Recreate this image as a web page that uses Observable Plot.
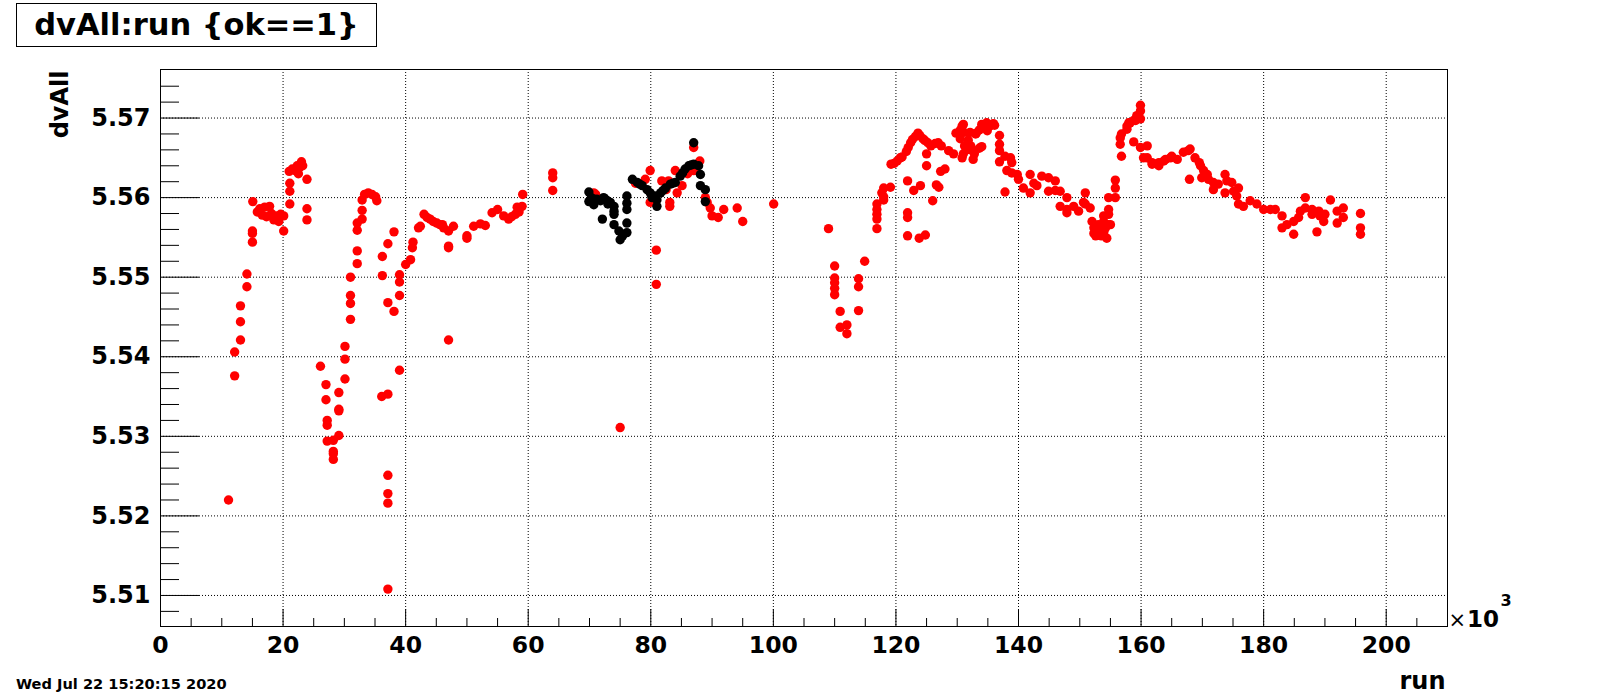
<!DOCTYPE html>
<html>
<head>
<meta charset="utf-8">
<script src="https://cdn.jsdelivr.net/npm/d3@7"></script>
<script src="https://cdn.jsdelivr.net/npm/@observablehq/plot@0.6"></script>
<style>
  html, body { margin: 0; padding: 0; background: #fff; }
  #wrap { position: relative; width: 1607px; height: 696px; overflow: hidden; font-family: "DejaVu Sans", sans-serif; }
  #title { position: absolute; left: 16px; top: 3px; width: 361px; height: 44px; box-sizing: border-box;
           border: 1px solid #000; background: #fff; font-weight: bold; font-size: 30.5px; line-height: 42px;
           text-align: center; color: #000; white-space: nowrap; }
  #date { position: absolute; left: 16px; top: 677px; font-weight: bold; font-size: 14.6px; line-height: 14px; color: #000; white-space: nowrap; }
  #chart { position: absolute; left: 0; top: 0; }
</style>
</head>
<body>
<div id="wrap">
  <div id="chart"></div>
  <div id="title">dvAll:run {ok==1}</div>
  <div id="date">Wed Jul 22 15:20:15 2020</div>
</div>
<script>
// ---- data (run in units of 10^3) ----
const redRun = [
  11.1,12.1,12.1,13.05,13.05,13.05,14.1,14.1,15.0,15.0,15.06,15.0,15.8,16.2,16.6,17.0,17.3,17.8,18.1,18.5,18.9,19.3,19.6,20.1,20.1,
  21.1,21.1,21.1,21.0,21.5,22.0,22.3,22.7,23.0,23.2,22.5,23.9,23.9,23.9,
  26.1,27.0,27.0,27.2,27.2,27.2,28.2,28.2,28.2,28.2,29.1,29.1,29.1,29.1,30.1,30.1,30.1,31.0,31.0,31.0,31.0,
  32.1,32.1,32.1,32.1,32.9,32.9,32.9,33.3,33.9,34.5,35.1,35.3,36.1,36.2,36.2,37.1,37.1,37.1,37.1,37.1,37.1,37.1,
  38.1,38.1,39.0,39.0,39.0,39.0,40.0,40.8,41.1,41.2,42.1,42.4,43.0,43.5,44.0,44.5,45.1,45.6,46.0,46.2,47.0,47.0,47.0,47.0,47.8,
  50.0,50.0,51.1,52.2,53.0,54.1,55.0,56.0,56.8,57.3,57.9,58.2,59.0,59.1,58.5,64.0,64.0,64.0,
  70.7,71.0,75.0,77.5,79.1,79.9,79.9,80.9,80.9,81.8,82.5,82.9,83.1,83.1,84.0,84.3,85.1,85.5,86.0,87.0,87.0,88.0,
  88.9,89.2,89.7,90.0,91.0,91.9,94.1,95.0,100.05,
  109.0,110.0,110.0,110.0,110.0,110.0,110.9,110.9,112.0,112.0,113.9,113.9,113.9,114.9,
  116.9,116.9,116.9,116.9,116.9,117.7,118.0,118.0,118.0,119.1,119.2,119.7,120.2,120.7,121.0,121.7,121.9,121.9,121.9,121.9,
  122.0,122.4,122.7,122.9,123.2,123.6,123.8,123.9,124.0,124.4,124.7,124.8,125.0,125.0,125.2,125.7,126.0,126.4,126.6,126.9,
  127.0,127.3,127.4,128.0,128.6,129.4,129.8,130.5,130.5,130.8,131.0,131.1,131.2,131.5,131.8,132.1,132.2,132.5,132.6,132.8,
  131.0,130.8,133.0,133.1,133.6,133.6,134.0,134.0,134.4,134.8,134.9,135.3,135.8,135.9,136.1,
  136.9,136.9,136.9,136.9,137.8,137.8,138.1,138.7,138.9,138.9,139.8,140.0,140.8,141.9,141.9,142.5,143.0,143.8,144.9,144.9,
  146.0,146.0,146.8,146.8,147.9,147.9,147.9,149.0,149.8,150.6,150.9,150.9,151.7,152.0,152.3,152.3,152.6,153.0,153.2,153.5,
  153.9,153.9,153.9,154.2,154.4,154.7,154.7,154.7,154.7,155.0,155.8,155.8,155.8,
  156.6,156.6,156.8,156.8,157.7,157.7,158.0,158.2,158.8,158.8,159.1,159.3,159.9,159.9,159.9,159.9,160.4,161.0,161.0,161.8,
  161.8,162.9,162.9,163.7,164.0,164.8,165.0,165.9,166.9,167.7,167.9,168.0,168.8,169.5,169.7,169.9,170.2,170.8,171.0,171.8,
  171.8,172.6,173.7,173.7,174.0,174.8,175.1,175.6,175.9,175.9,176.7,177.8,178.9,180.0,181.1,181.9,183.0,183.0,183.8,184.9,
  184.9,185.7,186.0,186.8,186.8,187.9,187.9,188.7,189.0,189.2,189.8,190.0,190.9,192.0,192.0,193.0,193.0,195.8,195.8,195.8
];
const redValue = [
  5.5220,5.5376,5.5406,5.5421,5.5444,5.5464,5.5488,5.5504,5.5544,5.5558,5.5595,5.5555,5.5582,5.5586,5.5578,5.5588,5.5576,5.5589,5.5580,5.5572,5.5577,5.5570,5.5579,5.5577,5.5558,
  5.5592,5.5608,5.5618,5.5633,5.5636,5.5634,5.5640,5.5638,5.5645,5.5640,5.5630,5.5623,5.5586,5.5572,
  5.5388,5.5365,5.5346,5.5320,5.5314,5.5294,5.5295,5.5281,5.5278,5.5271,5.5301,5.5355,5.5334,5.5332,5.5372,5.5397,5.5413,5.5447,5.5467,5.5477,5.5500,
  5.5517,5.5533,5.5559,5.5568,5.5573,5.5584,5.5597,5.5604,5.5606,5.5604,5.5601,5.5596,5.5350,5.5502,5.5526,5.5353,5.5468,5.5542,5.5251,5.5228,5.5216,5.5108,
  5.5457,5.5557,5.5383,5.5477,5.5494,5.5503,5.5516,5.5522,5.5537,5.5544,5.5562,5.5564,5.5579,5.5575,5.5573,5.5570,5.5568,5.5566,5.5566,5.5562,5.5558,5.5539,5.5537,5.5421,5.5564,
  5.5552,5.5549,5.5564,5.5567,5.5565,5.5581,5.5585,5.5577,5.5573,5.5576,5.5579,5.5588,5.5589,5.5604,5.5582,5.5631,5.5625,5.5609,
  5.5606,5.5604,5.5311,5.5618,5.5623,5.5634,5.5594,5.5534,5.5491,5.5621,5.5610,5.5621,5.5594,5.5589,5.5634,5.5606,5.5615,5.5632,5.5630,5.5663,5.5634,5.5646,
  5.5600,5.5594,5.5587,5.5577,5.5575,5.5585,5.5587,5.5570,5.5592,
  5.5561,5.5514,5.5499,5.5493,5.5486,5.5478,5.5457,5.5437,5.5440,5.5429,5.5498,5.5488,5.5458,5.5520,
  5.5561,5.5573,5.5579,5.5585,5.5592,5.5606,5.5597,5.5601,5.5612,5.5613,5.5642,5.5643,5.5646,5.5650,5.5651,5.5658,5.5621,5.5581,5.5575,5.5552,
  5.5663,5.5669,5.5673,5.5609,5.5677,5.5681,5.5549,5.5678,5.5615,5.5674,5.5672,5.5553,5.5655,5.5640,5.5669,5.5665,5.5596,5.5668,5.5616,5.5669,
  5.5613,5.5633,5.5665,5.5636,5.5659,5.5655,5.5681,5.5685,5.5674,5.5690,5.5692,5.5682,5.5665,5.5660,5.5672,5.5682,5.5665,5.5659,5.5648,5.5655,
  5.5655,5.5650,5.5680,5.5681,5.5685,5.5662,5.5692,5.5664,5.5688,5.5694,5.5684,5.5690,5.5692,5.5693,5.5691,
  5.5678,5.5667,5.5659,5.5645,5.5652,5.5607,5.5634,5.5650,5.5644,5.5631,5.5629,5.5623,5.5612,5.5629,5.5606,5.5618,5.5615,5.5627,5.5625,5.5608,
  5.5621,5.5609,5.5608,5.5589,5.5600,5.5585,5.5581,5.5589,5.5583,5.5594,5.5606,5.5592,5.5587,5.5570,5.5562,5.5555,5.5552,5.5566,5.5558,5.5552,
  5.5577,5.5570,5.5556,5.5562,5.5549,5.5600,5.5585,5.5579,5.5566,5.5566,5.5600,5.5612,5.5622,
  5.5675,5.5667,5.5652,5.5680,5.5686,5.5690,5.5694,5.5694,5.5697,5.5670,5.5697,5.5703,5.5709,5.5716,5.5699,5.5663,5.5650,5.5665,5.5650,5.5644,
  5.5642,5.5640,5.5644,5.5646,5.5648,5.5650,5.5652,5.5648,5.5657,5.5659,5.5623,5.5661,5.5650,5.5644,5.5640,5.5625,5.5634,5.5629,5.5623,5.5619,
  5.5610,5.5617,5.5629,5.5606,5.5621,5.5619,5.5608,5.5602,5.5612,5.5592,5.5589,5.5596,5.5592,5.5585,5.5585,5.5585,5.5577,5.5562,5.5566,5.5570,
  5.5554,5.5575,5.5583,5.5600,5.5587,5.5585,5.5579,5.5557,5.5583,5.5577,5.5570,5.5579,5.5597,5.5583,5.5568,5.5587,5.5575,5.5580,5.5562,5.5554
];
const blackRun = [
  69.9,69.9,70.3,70.7,71.2,71.8,72.1,72.3,72.6,72.9,73.0,73.4,74.0,74.0,74.0,74.0,74.8,75.0,75.4,
  76.1,76.1,76.1,76.1,76.1,77.0,77.8,78.2,78.6,79.4,79.9,80.2,80.7,81.0,81.0,81.6,82.0,82.4,83.2,83.6,84.0,
  84.8,85.2,85.6,86.2,86.6,87.0,87.8,88.1,87.0,88.1,88.9,88.9
];
const blackValue = [
  5.5607,5.5595,5.5600,5.5591,5.5598,5.5596,5.5573,5.5600,5.5598,5.5596,5.5592,5.5594,5.5589,5.5583,5.5579,5.5566,5.5558,5.5547,5.5552,
  5.5602,5.5593,5.5585,5.5568,5.5556,5.5623,5.5619,5.5617,5.5615,5.5610,5.5606,5.5600,5.5602,5.5589,5.5597,5.5606,5.5609,5.5612,5.5617,5.5618,5.5619,
  5.5627,5.5631,5.5636,5.5640,5.5641,5.5642,5.5640,5.5629,5.5669,5.5615,5.5610,5.5595
];
const xMajorTicks = [0, 20, 40, 60, 80, 100, 120, 140, 160, 180, 200];
const xMinorTicks = [5, 10, 15, 25, 30, 35, 45, 50, 55, 65, 70, 75, 85, 90, 95, 105, 110, 115, 125, 130, 135, 145, 150, 155, 165, 170, 175, 185, 190, 195, 205];
const yMajorTicks = [5.51, 5.52, 5.53, 5.54, 5.55, 5.56, 5.57];
const yMinorTicks = [5.508, 5.512, 5.514, 5.516, 5.518, 5.522, 5.524, 5.526, 5.528, 5.532, 5.534, 5.536, 5.538,
                     5.542, 5.544, 5.546, 5.548, 5.552, 5.554, 5.556, 5.558, 5.562, 5.564, 5.566, 5.568, 5.572, 5.574];

const red = redRun.map((r, i) => ({run: r, dv: redValue[i]}));
const black = blackRun.map((r, i) => ({run: r, dv: blackValue[i]}));

const W = 1607, H = 696, mL = 160, mR = 160, mT = 69, mB = 70;
const innerW = W - mL - mR, innerH = H - mT - mB;
const F = "DejaVu Sans";
const grid = {stroke: "#000", strokeOpacity: 1, strokeWidth: 1, strokeDasharray: "1,2"};

const chart = Plot.plot({
  width: W, height: H,
  marginLeft: mL, marginRight: mR, marginTop: mT, marginBottom: mB,
  style: {fontFamily: F, background: "#fff", color: "#000"},
  x: {domain: [0, 210]},
  y: {domain: [5.5061, 5.5761]},
  marks: [
    Plot.gridX(xMajorTicks.slice(1), grid),
    Plot.gridY(yMajorTicks, grid),
    Plot.tickY(yMajorTicks, {y: d => d, insetRight: innerW - 39, stroke: "#000", strokeWidth: 1}),
    Plot.tickY(yMinorTicks, {y: d => d, insetRight: innerW - 19, stroke: "#000", strokeWidth: 1}),
    Plot.tickX(xMajorTicks, {x: d => d, insetTop: innerH - 17, stroke: "#000", strokeWidth: 1}),
    Plot.tickX(xMinorTicks, {x: d => d, insetTop: innerH - 8, stroke: "#000", strokeWidth: 1}),
    Plot.axisY(yMajorTicks, {tickSize: 0, tickPadding: 10, tickFormat: d3.format(".2f"), fontSize: 24, fontWeight: "bold", fontFamily: F, fill: "#000", label: null}),
    Plot.axisX(xMajorTicks, {tickSize: 0, tickPadding: 10, tickFormat: d => String(d), fontSize: 23.5, fontWeight: "bold", fontFamily: F, fill: "#000", label: null}),
    Plot.dot(red, {x: "run", y: "dv", r: 4.7, fill: "#ff0000"}),
    Plot.dot(black, {x: "run", y: "dv", r: 4.7, fill: "#000000"}),
    Plot.frame({stroke: "#000", strokeWidth: 1}),
    Plot.text(["run"], {text: d => d, frameAnchor: "bottom-right", textAnchor: "end", lineAnchor: "bottom", dx: -2, dy: 62, fontSize: 24, fontWeight: "bold", fontFamily: F, fill: "#000"}),
    Plot.text(["dvAll"], {text: d => d, frameAnchor: "top-left", rotate: -90, textAnchor: "end", lineAnchor: "bottom", dx: -93, dy: 1, fontSize: 24, fontWeight: "bold", fontFamily: F, fill: "#000"}),
    Plot.text(["×"], {text: d => d, frameAnchor: "bottom-right", textAnchor: "start", lineAnchor: "bottom", dx: 1, dy: 0, fontSize: 21, fontFamily: F, fill: "#000"}),
    Plot.text(["10"], {text: d => d, frameAnchor: "bottom-right", textAnchor: "start", lineAnchor: "bottom", dx: 19.5, dy: 0, fontSize: 23, fontWeight: "bold", fontFamily: F, fill: "#000"}),
    Plot.text(["3"], {text: d => d, frameAnchor: "bottom-right", textAnchor: "start", lineAnchor: "bottom", dx: 53, dy: -21, fontSize: 16, fontWeight: "bold", fontFamily: F, fill: "#000"})
  ]
});
document.getElementById("chart").appendChild(chart);
</script>
</body>
</html>
